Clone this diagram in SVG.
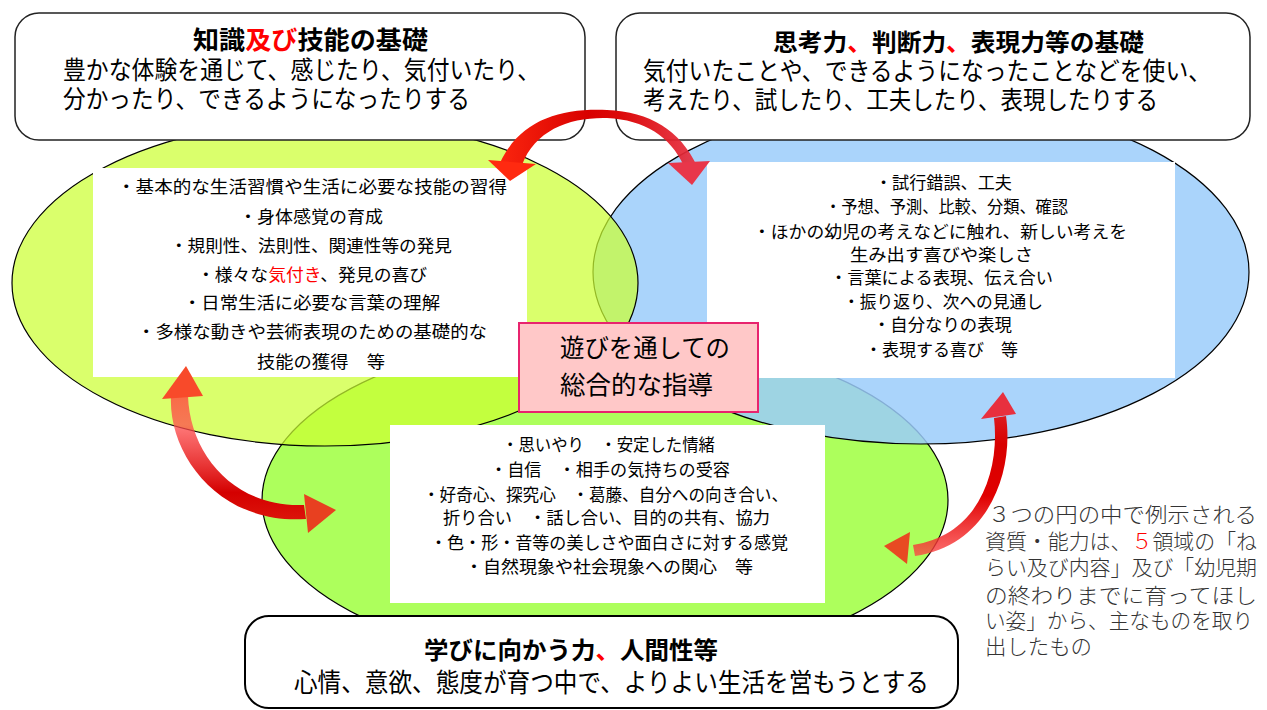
<svg xmlns="http://www.w3.org/2000/svg" width="1267" height="710" viewBox="0 0 1267 710">
<defs>
<style>
.t{font-family:"Liberation Sans","Noto Sans CJK JP","Noto Sans CJK SC",sans-serif;fill:#000}
.b{font-weight:bold}
.r{fill:#ff0000}
.box{fill:#fff;stroke:#222;stroke-width:1.5}
.wb{fill:#fff}
.ell{stroke:#000;stroke-width:1.2}
.note{font-family:"Liberation Serif","Noto Sans CJK JP",serif;fill:#333;font-weight:300}
</style>
<linearGradient id="gTop" gradientUnits="userSpaceOnUse" x1="488" y1="0" x2="710" y2="0">
<stop offset="0" stop-color="#ff2a10"/>
<stop offset="0.45" stop-color="#d80000"/>
<stop offset="0.6" stop-color="#dc0a0a"/>
<stop offset="1" stop-color="#e8364a" stop-opacity="0.9"/>
</linearGradient>
<linearGradient id="gLeft" gradientUnits="userSpaceOnUse" x1="0" y1="365" x2="0" y2="535">
<stop offset="0" stop-color="#ff4a30" stop-opacity="0.9"/>
<stop offset="0.35" stop-color="#ff4d4d" stop-opacity="0.75"/>
<stop offset="0.75" stop-color="#d40000"/>
<stop offset="1" stop-color="#e02010"/>
</linearGradient>
<linearGradient id="gRight" gradientUnits="userSpaceOnUse" x1="0" y1="392" x2="0" y2="565">
<stop offset="0" stop-color="#e0303a"/>
<stop offset="0.3" stop-color="#d80000"/>
<stop offset="0.6" stop-color="#e00000"/>
<stop offset="1" stop-color="#ff5050" stop-opacity="0.75"/>
</linearGradient>
</defs>

<g id="circles">
<ellipse id="circle-bottom" class="ell" cx="605" cy="500" rx="343" ry="166" fill="rgb(153,255,51)" fill-opacity="0.8"/>
<ellipse id="circle-right" class="ell" cx="921" cy="272" rx="328" ry="172" fill="rgb(155,204,250)" fill-opacity="0.85"/>
<ellipse id="circle-left" class="ell" cx="325" cy="283" rx="313" ry="163" fill="rgb(204,255,51)" fill-opacity="0.72"/>
</g>

<g id="box-knowledge">
<rect class="box" x="15" y="13" width="570" height="127" rx="24"/>
<text class="t b" x="193" y="49" font-size="25" textLength="235" lengthAdjust="spacingAndGlyphs">知識<tspan class="r">及び</tspan>技能の基礎</text>
<text class="t" x="63" y="79" font-size="25" textLength="477" lengthAdjust="spacingAndGlyphs">豊かな体験を通じて、感じたり、気付いたり、</text>
<text class="t" x="63" y="108" font-size="25" textLength="407" lengthAdjust="spacingAndGlyphs">分かったり、できるようになったりする</text>
</g>

<g id="box-thinking">
<rect class="box" x="616" y="13" width="634" height="127" rx="24"/>
<text class="t b" x="773" y="51" font-size="24" textLength="371" lengthAdjust="spacingAndGlyphs">思考力<tspan class="r">、</tspan>判断力<tspan class="r">、</tspan>表現力等の基礎</text>
<text class="t" x="643" y="80" font-size="25" textLength="568" lengthAdjust="spacingAndGlyphs">気付いたことや、できるようになったことなどを使い、</text>
<text class="t" x="643" y="109" font-size="25" textLength="515" lengthAdjust="spacingAndGlyphs">考えたり、試したり、工夫したり、表現したりする</text>
</g>

<g id="box-learning">
<rect x="245" y="616" width="713" height="92" rx="24" fill="#fff" stroke="#000" stroke-width="2"/>
<text class="t b" x="424" y="659" font-size="24" textLength="294" lengthAdjust="spacingAndGlyphs">学びに向かう力<tspan class="r">、</tspan>人間性等</text>
<text class="t" x="294" y="692" font-size="26" textLength="635" lengthAdjust="spacingAndGlyphs">心情、意欲、態度が育つ中で、よりよい生活を営もうとする</text>
</g>

<g id="list-knowledge">
<rect class="wb" x="93" y="168" width="434" height="209"/>
<text class="t" x="117" y="193" font-size="17" textLength="390" lengthAdjust="spacingAndGlyphs">・基本的な生活習慣や生活に必要な技能の習得</text>
<text class="t" x="239" y="223" font-size="17" textLength="144" lengthAdjust="spacingAndGlyphs">・身体感覚の育成</text>
<text class="t" x="170" y="252" font-size="17" textLength="282" lengthAdjust="spacingAndGlyphs">・規則性、法則性、関連性等の発見</text>
<text class="t" x="197" y="281" font-size="17" textLength="230" lengthAdjust="spacingAndGlyphs">・様々な<tspan class="r">気付き</tspan>、発見の喜び</text>
<text class="t" x="183" y="309" font-size="17" textLength="257" lengthAdjust="spacingAndGlyphs">・日常生活に必要な言葉の理解</text>
<text class="t" x="137" y="338" font-size="17" textLength="350" lengthAdjust="spacingAndGlyphs">・多様な動きや芸術表現のための基礎的な</text>
<text class="t" x="257" y="368" font-size="17" textLength="128" lengthAdjust="spacingAndGlyphs">技能の獲得　等</text>
</g>

<g id="list-thinking">
<rect class="wb" x="707" y="162" width="468" height="216"/>
<text class="t" x="875" y="189" font-size="17" textLength="137" lengthAdjust="spacingAndGlyphs">・試行錯誤、工夫</text>
<text class="t" x="825" y="213" font-size="17" textLength="243" lengthAdjust="spacingAndGlyphs">・予想、予測、比較、分類、確認</text>
<text class="t" x="753" y="238" font-size="17" textLength="374" lengthAdjust="spacingAndGlyphs">・ほかの幼児の考えなどに触れ、新しい考えを</text>
<text class="t" x="850" y="261" font-size="17" textLength="183" lengthAdjust="spacingAndGlyphs">生み出す喜びや楽しさ</text>
<text class="t" x="830" y="284" font-size="17" textLength="223" lengthAdjust="spacingAndGlyphs">・言葉による表現、伝え合い</text>
<text class="t" x="843" y="308" font-size="17" textLength="200" lengthAdjust="spacingAndGlyphs">・振り返り、次への見通し</text>
<text class="t" x="873" y="331" font-size="17" textLength="139" lengthAdjust="spacingAndGlyphs">・自分なりの表現</text>
<text class="t" x="865" y="356" font-size="17" textLength="153" lengthAdjust="spacingAndGlyphs">・表現する喜び　等</text>
</g>

<g id="list-learning">
<rect class="wb" x="390" y="425" width="435" height="178"/>
<text class="t" x="502" y="451" font-size="17" textLength="213" lengthAdjust="spacingAndGlyphs">・思いやり　・安定した情緒</text>
<text class="t" x="490" y="476" font-size="17" textLength="240" lengthAdjust="spacingAndGlyphs">・自信　・相手の気持ちの受容</text>
<text class="t" x="423" y="501" font-size="17" textLength="365" lengthAdjust="spacingAndGlyphs">・好奇心、探究心　・葛藤、自分への向き合い、</text>
<text class="t" x="443" y="524" font-size="17" textLength="327" lengthAdjust="spacingAndGlyphs">折り合い　・話し合い、目的の共有、協力</text>
<text class="t" x="430" y="549" font-size="17" textLength="358" lengthAdjust="spacingAndGlyphs">・色・形・音等の美しさや面白さに対する感覚</text>
<text class="t" x="465" y="573" font-size="17" textLength="288" lengthAdjust="spacingAndGlyphs">・自然現象や社会現象への関心　等</text>
</g>

<g id="center-guidance">
<rect x="519" y="323" width="239" height="89" fill="#ffc8c8" stroke="#e8246e" stroke-width="2"/>
<text class="t" x="560" y="357" font-size="25" textLength="170" lengthAdjust="spacingAndGlyphs">遊びを通しての</text>
<text class="t" x="560" y="394" font-size="25" textLength="153" lengthAdjust="spacingAndGlyphs">総合的な指導</text>
</g>

<g id="note">
<text class="note" x="988" y="522" font-size="21" textLength="269" lengthAdjust="spacingAndGlyphs">３つの円の中で例示される</text>
<text class="note" x="985" y="549" font-size="21" textLength="272" lengthAdjust="spacingAndGlyphs">資質・能力は、<tspan fill="#ff0000">５</tspan>領域の「ね</text>
<text class="note" x="985" y="575" font-size="21" textLength="272" lengthAdjust="spacingAndGlyphs">らい及び内容」及び「幼児期</text>
<text class="note" x="985" y="603" font-size="21" textLength="272" lengthAdjust="spacingAndGlyphs">の終わりまでに育ってほし</text>
<text class="note" x="985" y="628" font-size="21" textLength="268" lengthAdjust="spacingAndGlyphs">い姿」から、主なものを取り</text>
<text class="note" x="985" y="654" font-size="21" textLength="107" lengthAdjust="spacingAndGlyphs">出したもの</text>
</g>

<g id="connectors">
<g id="arrow-top">
<path d="M 500 163 C 520 120, 560 108, 607 110 C 650 112, 680 130, 697 166 L 684 166 C 670 136, 645 120, 607 118 C 570 117, 535 130, 522 165 Z" fill="url(#gTop)"/>
<polygon points="488,160 536,164 510,181" fill="#ff2a10"/>
<polygon points="668,163 710,161 692,185" fill="#e8364a"/>
</g>
<g id="arrow-left">
<path d="M 171 396 C 168 455, 220 525, 306 519 L 304 505 C 235 508, 190 455, 188 396 Z" fill="url(#gLeft)"/>
<polygon points="162,399 186,366 203,396" fill="#f84a2a"/>
<polygon points="304,494 336,510 308,533" fill="#e84020"/>
</g>
<g id="arrow-right">
<path d="M 1006 416 C 1014 470, 990 545, 915 556 L 913 545 C 980 535, 1000 470, 994 418 Z" fill="url(#gRight)"/>
<polygon points="981,419 1003,392 1016,414" fill="#e8303e"/>
<polygon points="910,532 884,546 907,564" fill="#e84a22"/>
</g>
</g>
</svg>
